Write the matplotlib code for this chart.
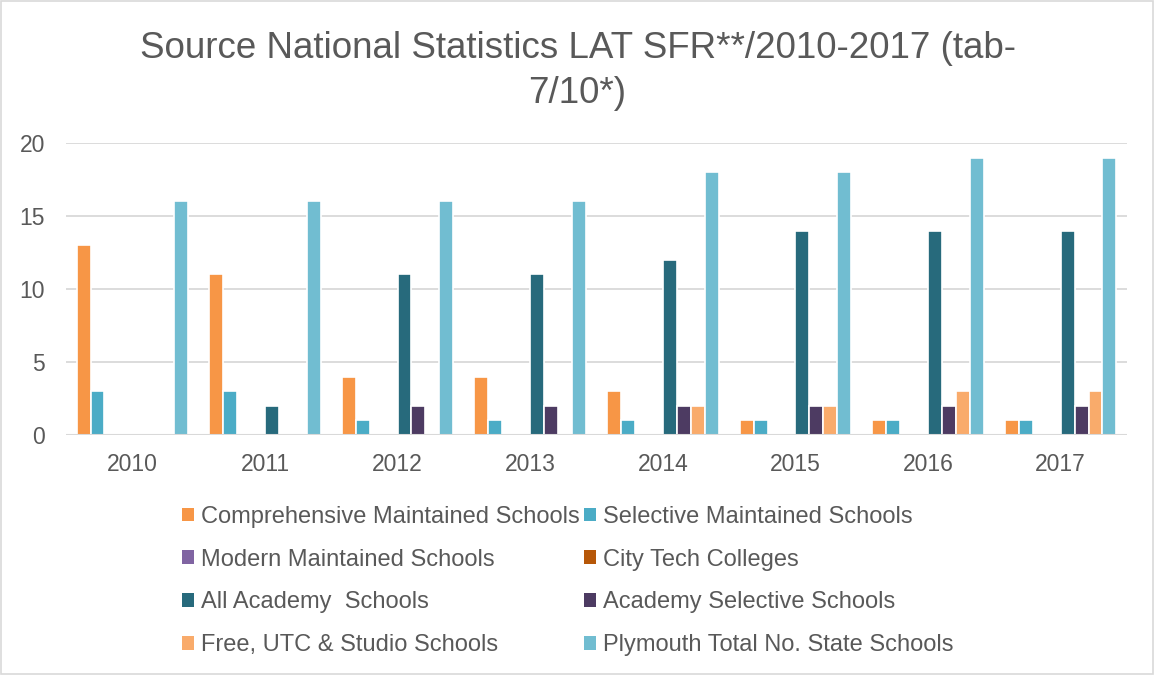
import matplotlib
matplotlib.use("Agg")
import matplotlib.pyplot as plt
import numpy as np
from matplotlib.patches import Rectangle, Patch

plt.rcParams['font.family'] = ['Liberation Sans', 'DejaVu Sans']

years = ["2010", "2011", "2012", "2013", "2014", "2015", "2016", "2017"]
series_names = [
    "Comprehensive Maintained Schools",
    "Selective Maintained Schools",
    "Modern Maintained Schools",
    "City Tech Colleges",
    "All Academy  Schools",
    "Academy Selective Schools",
    "Free, UTC & Studio Schools",
    "Plymouth Total No. State Schools",
]
comprehensive = [13, 11, 4, 4, 3, 1, 1, 1]
selective = [3, 3, 1, 1, 1, 1, 1, 1]
modern = [0, 0, 0, 0, 0, 0, 0, 0]
city_tech = [0, 0, 0, 0, 0, 0, 0, 0]
all_academy = [0, 2, 11, 11, 12, 14, 14, 14]
academy_selective = [0, 0, 2, 2, 2, 2, 2, 2]
free_utc_studio = [0, 0, 0, 0, 2, 2, 3, 3]
plymouth_total = [16, 16, 16, 16, 18, 18, 19, 19]
series_values = [comprehensive, selective, modern, city_tech,
                 all_academy, academy_selective, free_utc_studio, plymouth_total]
colors = ["#F79646", "#4BACC6", "#8064A2", "#B65708",
          "#276A7C", "#4D3B62", "#F9AB6B", "#71BDD1"]

fig = plt.figure(figsize=(11.55, 6.75), dpi=100)
ax = fig.add_axes([66/1155, 1-435/675, (1127-66)/1155, (435-143)/675])

x = np.arange(len(years))
n = len(series_names)
step = 0.105
for i, (vals, c) in enumerate(zip(series_values, colors)):
    v = np.array(vals, dtype=float)
    v[v == 0] = np.nan
    ax.bar(x + (i - (n-1)/2) * step, v, width=step, color=c,
           edgecolor="white", linewidth=1.2, zorder=2)

ax.set_xlim(-0.5, len(years) - 0.5)
ax.set_ylim(0, 20)
ax.set_yticks([0, 5, 10, 15, 20])
ax.set_xticks(x)
ax.set_xticklabels(years)
ax.tick_params(axis='both', length=0, labelsize=16.5, colors="#595959")
ax.tick_params(axis='x', pad=13)
ax.tick_params(axis='y', pad=15)
for s in ax.spines.values():
    s.set_visible(False)
ax.grid(axis='y', color="#D9D9D9", linewidth=1.3, zorder=0)
ax.set_axisbelow(True)
ax.axhline(0, color="#D9D9D9", linewidth=1.5, zorder=3)

fig.text(0.5, 1-71/675, "Source National Statistics LAT SFR**/2010-2017 (tab-\n7/10*)",
         ha="center", va="center", fontsize=26.5, color="#595959", linespacing=1.4)

handles = [Patch(facecolor=c, edgecolor="none") for c in colors]
order = [0, 2, 4, 6, 1, 3, 5, 7]
leg = fig.legend([handles[i] for i in order], [series_names[i] for i in order],
                 ncol=2, loc="center", bbox_to_anchor=(568/1155, 1-581/675),
                 frameon=False, fontsize=17, handlelength=0.5, handleheight=0.5,
                 handletextpad=0.3, columnspacing=0.2, labelspacing=0.88,
                 labelcolor="#595959")

fig.patches.append(Rectangle((0.001, 0.001), 0.997, 0.997, transform=fig.transFigure,
                             fill=False, edgecolor="#D9D9D9", linewidth=1.2))

fig.savefig("out.png", dpi=100, facecolor="white")
